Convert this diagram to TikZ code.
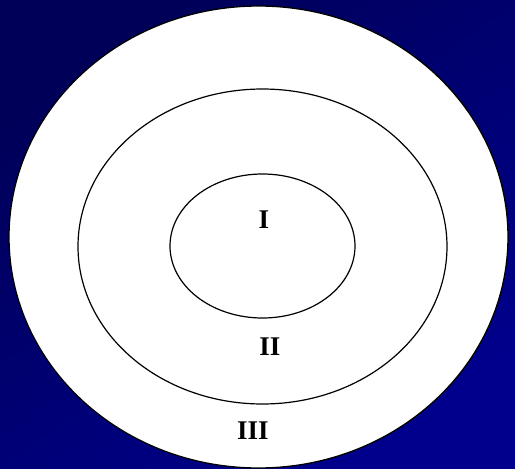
\documentclass[tikz,border=0pt]{standalone}
\usepackage{fontspec}
\setmainfont{Liberation Serif}
\usetikzlibrary{calc, positioning}
\definecolor{bgtop}{RGB}{0,0,88}
\definecolor{bgbot}{RGB}{0,0,140}

\begin{document}
\begin{tikzpicture}[x=1pt, y=-1pt]
    \def\cx{262.5}
    \def\cy{246}
\useasboundingbox (0,0) rectangle (515,469);
\shade[top color=bgtop, bottom color=bgbot, shading angle=35] (0,0) rectangle (515,469);
% three zones
\draw[fill=white, line width=1.3pt] (258.5,237) ellipse (249.5pt and 231pt);
\draw[line width=1.2pt] (\cx,246.5) ellipse (184.5pt and 157.5pt);
\draw[line width=1.2pt] (\cx,\cy) ellipse (92.5pt and 72pt);
\node[font=\bfseries\fontsize{27}{27}\selectfont] (one) at (264,220) {I};
\node[font=\bfseries\fontsize{27}{27}\selectfont] (two) at (270,347) {II};
\node[font=\bfseries\fontsize{27}{27}\selectfont] (three) at (253,431) {III};
\end{tikzpicture}
\end{document}
